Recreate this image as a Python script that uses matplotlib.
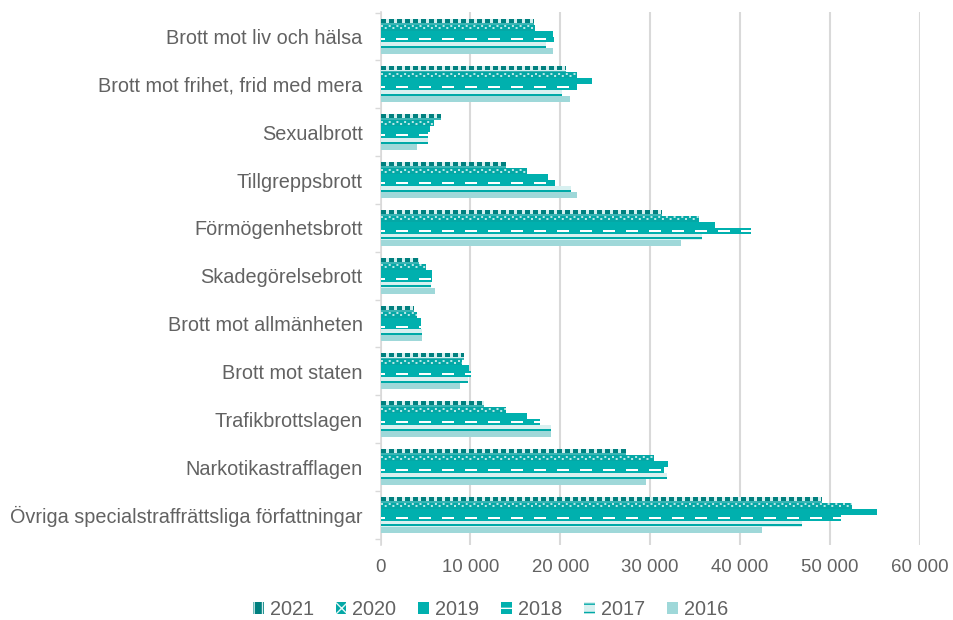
import numpy as np
import matplotlib
matplotlib.use("Agg")
import matplotlib.pyplot as plt
from matplotlib.patches import Patch
from matplotlib.ticker import FuncFormatter, FixedLocator

plt.rcParams['font.family'] = ['Liberation Sans', 'DejaVu Sans']
plt.rcParams['lines.scale_dashes'] = False

categories = [
    "Brott mot liv och hälsa",
    "Brott mot frihet, frid med mera",
    "Sexualbrott",
    "Tillgreppsbrott",
    "Förmögenhetsbrott",
    "Skadegörelsebrott",
    "Brott mot allmänheten",
    "Brott mot staten",
    "Trafikbrottslagen",
    "Narkotikastrafflagen",
    "Övriga specialstraffrättsliga författningar",
]
years = ["2021", "2020", "2019", "2018", "2017", "2016"]

v2021 = [17100, 20600, 6700, 13900, 31300, 4300, 3700, 9300, 11500, 27300, 49100]
v2020 = [17200, 21900, 5900, 16300, 35400, 5100, 4100, 9100, 13900, 30400, 52500]
v2019 = [19200, 23500, 5450, 18650, 37200, 5700, 4450, 9800, 16300, 32000, 55200]
v2018 = [19300, 21900, 5300, 19400, 41200, 5750, 4500, 10100, 17700, 31500, 51300]
v2017 = [18400, 20200, 5300, 21200, 35800, 5600, 4650, 9700, 19000, 31850, 46850]
v2016 = [19200, 21100, 4100, 21900, 33400, 6100, 4650, 8800, 19000, 29550, 42400]

TEAL = "#00b0ae"
DARK = "#00807f"
LIGHT = "#d3eeee"
PALE = "#9fd8d9"
GRAY = "#626262"
GRID = "#d9d9d9"

PX = 0.72  # points per pixel at dpi 100

fig = plt.figure(figsize=(9.54, 6.2), dpi=100)
ax = fig.add_axes([0.399, 0.121, 0.565, 0.860])

y = np.arange(len(categories))
h = 0.125
off = lambda j: (j - 2.5) * h

# 2021: light bar, dark squares on top, teal strip at bottom
yy = y + off(0)
ax.barh(yy, v2021, height=h, color=LIGHT, linewidth=0, zorder=3)
ax.hlines(yy - 0.02, 0, v2021, color=DARK, lw=4 * PX, linestyles=[(0, (5 * PX, 3 * PX))], zorder=4)
ax.hlines(yy + 0.045, 0, v2021, color="#06a3a1", lw=1.5 * PX, zorder=4)

# 2020: teal bar with white checker dots
yy = y + off(1)
ax.barh(yy, v2020, height=h, color="#04a8a6", linewidth=0, zorder=3)
ax.hlines(yy - 0.03, 0, v2020, color="#e6f7f7", lw=1.6 * PX, linestyles=[(0, (2 * PX, 5.7 * PX))], zorder=4)
ax.hlines(yy + 0.01, 0, v2020, color="#e6f7f7", lw=1.6 * PX, linestyles=[(4 * PX, (2 * PX, 5.7 * PX))], zorder=4)

# 2019: solid teal
yy = y + off(2)
ax.barh(yy, v2019, height=h, color=TEAL, linewidth=0, zorder=3)

# 2018: teal with white dashes
yy = y + off(3)
ax.barh(yy, v2018, height=h, color=TEAL, linewidth=0, zorder=3)
ax.hlines(yy, 0, v2018, color="white", lw=2 * PX, linestyles=[(8 * PX, (12 * PX, 11 * PX))], zorder=4)

# 2017: light bar with teal line at the bottom
yy = y + off(4)
ax.barh(yy, v2017, height=h, color="#d8f0f0", linewidth=0, zorder=3)
ax.hlines(yy + 0.035, 0, v2017, color="#00a9a7", lw=2 * PX, zorder=4)

# 2016: pale solid
yy = y + off(5)
ax.barh(yy, v2016, height=h, color=PALE, linewidth=0, zorder=3)

ax.set_ylim(len(categories) - 1 + 0.63, -0.517)
ax.set_xlim(0, 60000)
ax.xaxis.set_major_locator(FixedLocator(np.arange(0, 60001, 10000)))
ax.xaxis.set_major_formatter(FuncFormatter(lambda v, p: f"{int(v):,}".replace(",", " ")))
ax.set_yticks(y)
ax.set_yticklabels(categories)
ax.set_yticks(np.arange(-0.5, len(categories), 1), minor=True)
ax.tick_params(axis='y', which='major', length=0, pad=13, labelsize=14.3, labelcolor=GRAY)
ax.tick_params(axis='y', which='minor', length=4, color=GRID, width=1)
ax.tick_params(axis='x', length=0, pad=10, labelsize=13.4, labelcolor=GRAY)

ax.grid(axis='x', color=GRID, lw=1.5, zorder=0)
ax.set_axisbelow(True)
for s in ['top', 'right', 'bottom']:
    ax.spines[s].set_visible(False)
ax.spines['left'].set_color(GRID)
ax.spines['left'].set_linewidth(1.2)

handles = [
    Patch(facecolor=DARK, edgecolor=LIGHT, hatch='||', linewidth=0),
    Patch(facecolor="#04a8a6", edgecolor="#e6f7f7", hatch='xx', linewidth=0),
    Patch(facecolor=TEAL, linewidth=0),
    Patch(facecolor=TEAL, edgecolor="white", hatch='-', linewidth=0),
    Patch(facecolor="#d8f0f0", edgecolor="#00a9a7", hatch='--', linewidth=0),
    Patch(facecolor=PALE, linewidth=0),
]
leg = fig.legend(handles, years, loc='center', bbox_to_anchor=(0.514, 0.017), ncol=6,
                 frameon=False, fontsize=14.3, handlelength=0.55, handleheight=0.55,
                 handletextpad=0.3, columnspacing=1.1, borderpad=0)
for t in leg.get_texts():
    t.set_color(GRAY)

fig.savefig("out.png", dpi=100)
